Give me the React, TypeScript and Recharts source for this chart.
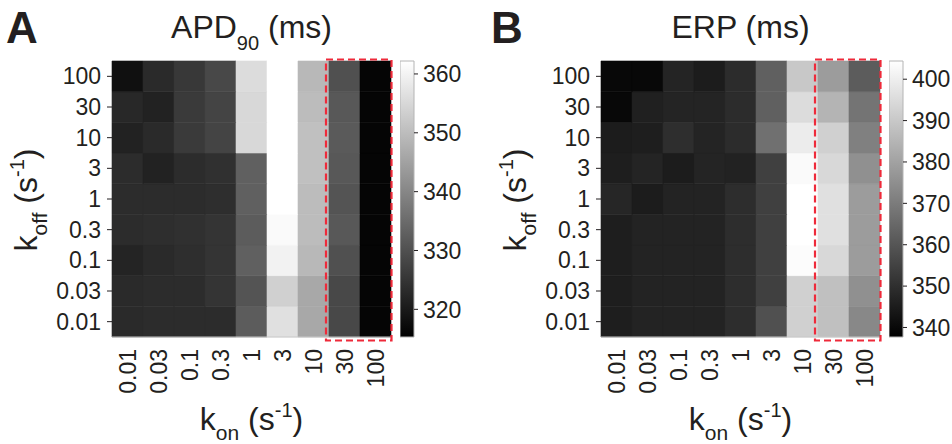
import React from 'react';
import { BarChart, Bar, XAxis, YAxis, Cell, ReferenceArea } from 'recharts';

// Rate constants (s^-1)
const KON = ['0.01', '0.03', '0.1', '0.3', '1', '3', '10', '30', '100'];
// koff listed from the bottom row of the map to the top row
const KOFF = ['0.01', '0.03', '0.1', '0.3', '1', '3', '10', '30', '100'];

// APD90 (ms); each row is one koff (top row koff = 100 first), columns follow KON
const APD90_ROWS = [
  [318.2, 323.0, 325.6, 328.5, 355.8, 362.2, 349.1, 330.0, 316.2],
  [322.7, 321.6, 326.0, 327.8, 355.0, 362.2, 349.9, 331.5, 316.2],
  [321.6, 323.0, 326.0, 327.8, 355.0, 362.2, 350.6, 331.9, 316.2],
  [323.4, 321.6, 323.4, 324.1, 333.0, 362.2, 350.6, 331.5, 316.2],
  [323.4, 323.4, 323.4, 323.8, 333.0, 362.2, 349.9, 330.8, 316.2],
  [323.4, 323.8, 324.1, 324.9, 332.2, 361.3, 349.9, 331.5, 316.2],
  [321.9, 323.0, 323.8, 324.9, 333.0, 359.8, 349.1, 330.0, 316.2],
  [323.0, 323.4, 323.4, 324.9, 330.8, 353.6, 346.2, 328.5, 316.2],
  [323.0, 323.4, 323.4, 323.4, 332.2, 356.5, 346.2, 328.5, 316.2],
];

// ERP (ms); same layout as above
const ERP_ROWS = [
  [339.8, 339.8, 347.1, 345.0, 349.2, 362.8, 390.0, 378.5, 361.8],
  [339.8, 346.1, 347.1, 347.1, 349.2, 362.8, 395.2, 384.8, 368.0],
  [345.0, 345.5, 349.7, 347.1, 349.2, 367.0, 399.4, 392.1, 371.2],
  [345.5, 347.1, 345.0, 347.1, 346.6, 354.4, 403.1, 394.2, 375.4],
  [347.6, 345.0, 346.9, 346.9, 349.5, 354.4, 404.4, 396.3, 378.5],
  [345.5, 346.9, 346.9, 346.9, 349.5, 354.4, 404.4, 396.3, 378.5],
  [345.5, 346.9, 346.9, 346.9, 349.5, 354.4, 403.6, 394.2, 378.5],
  [345.5, 346.9, 346.9, 346.9, 349.5, 354.4, 392.1, 387.9, 375.4],
  [345.5, 346.9, 346.9, 346.9, 349.5, 358.6, 392.1, 387.9, 373.3],
];

// Colour scale limits and colourbar ticks
const APD90_RANGE = [315.3, 362.2];
const ERP_RANGE = [337.7, 404.4];
const APD90_TICKS = [320, 330, 340, 350, 360];
const ERP_TICKS = [340, 350, 360, 370, 380, 390, 400];

// Highlighted kon span
const HIGHLIGHT = ['30', '100'];

const FONT = '"Liberation Sans", Arial, Helvetica, sans-serif';
const INK = '#231f20';
const TICK_FONT = 23;

const grayOf = (v: number, lo: number, hi: number) => {
  const t = Math.max(0, Math.min(1, (v - lo) / (hi - lo)));
  const g = Math.round(t * 255);
  return `rgb(${g},${g},${g})`;
};

// One object per kon column; each koff band stacks one unit tall
const buildColumns = () =>
  KON.map((kon) => {
    const row: Record<string, string | number> = { kon };
    KOFF.forEach((_, k) => {
      row[`k${k}`] = 1;
    });
    return row;
  });

const KonTick = (props: any) => {
  const { x, y, payload } = props;
  return (
    <g transform={`translate(${x},${y})`}>
      <text
        transform="rotate(-90)"
        x={-12}
        y={0}
        textAnchor="end"
        dominantBaseline="central"
        fontSize={TICK_FONT}
        fontFamily={FONT}
        fill={INK}
      >
        {payload.value}
      </text>
    </g>
  );
};

const DashedBox = (props: any) => {
  const { x, y, width, height } = props;
  return (
    <rect
      x={x - 3}
      y={y - 1.5}
      width={width + 3.5}
      height={height + 5}
      fill="none"
      stroke="#ee2a3a"
      strokeWidth={2.2}
      strokeDasharray="7 4"
    />
  );
};

type MapProps = { left: number; rows: number[][]; range: number[] };

const HeatMap = ({ left, rows, range }: MapProps) => {
  const data = buildColumns();
  const [lo, hi] = range;
  return (
    <div style={{ position: 'absolute', left, top: 0 }}>
      <BarChart
        width={400}
        height={444}
        data={data}
        margin={{ top: 61, right: 9, bottom: 47, left: 0 }}
        barCategoryGap={0}
        barGap={0}
      >
        <XAxis
          dataKey="kon"
          type="category"
          height={60}
          axisLine={{ stroke: '#c8c8c8' }}
          tickLine={false}
          tickSize={0}
          tickMargin={0}
          interval={0}
          tick={<KonTick />}
        />
        <YAxis
          type="number"
          domain={[0, 9]}
          ticks={KOFF.map((_, i) => i + 0.5)}
          tickFormatter={(v: number) => KOFF[Math.floor(v)]}
          width={112}
          axisLine={false}
          tickLine={{ stroke: INK }}
          tickSize={5}
          tickMargin={6}
          interval={0}
          tick={{ fontSize: TICK_FONT, fill: INK, fontFamily: FONT }}
        />
        {KOFF.map((_, k) => (
          <Bar key={k} dataKey={`k${k}`} stackId="map" isAnimationActive={false}>
            {KON.map((__, c) => {
              const fill = grayOf(rows[8 - k][c], lo, hi);
              return <Cell key={c} fill={fill} stroke={fill} strokeWidth={0.6} />;
            })}
          </Bar>
        ))}
        <ReferenceArea
          x1={HIGHLIGHT[0]}
          x2={HIGHLIGHT[1]}
          y1={0}
          y2={9}
          ifOverflow="visible"
          zIndex={2000}
          shape={<DashedBox />}
        />
      </BarChart>
    </div>
  );
};

type BarProps = { left: number; range: number[]; ticks: number[]; id: string };

const ColorBar = ({ left, range, ticks, id }: BarProps) => (
  <div style={{ position: 'absolute', left, top: 0 }}>
    <BarChart
      width={74}
      height={444}
      data={[{ name: 'scale', span: range }]}
      margin={{ top: 61, right: 0, bottom: 107, left: 0 }}
      barCategoryGap={0}
    >
      <defs>
        <linearGradient id={id} x1="0" y1="1" x2="0" y2="0">
          <stop offset="0" stopColor="#000" />
          <stop offset="1" stopColor="#fff" />
        </linearGradient>
      </defs>
      <XAxis dataKey="name" hide />
      <YAxis
        orientation="right"
        type="number"
        domain={range}
        ticks={ticks}
        width={60}
        axisLine={false}
        tickLine={{ stroke: INK }}
        tickSize={4}
        tickMargin={5}
        interval={0}
        tick={{ fontSize: TICK_FONT, fill: INK, fontFamily: FONT }}
      />
      <Bar dataKey="span" fill={`url(#${id})`} stroke="#b4b4b4" strokeWidth={1} isAnimationActive={false} />
    </BarChart>
  </div>
);

const AxisTitle = ({ x, y, sub, rotate }: { x: number; y: number; sub: string; rotate?: boolean }) => (
  <text
    transform={rotate ? `translate(${x},${y}) rotate(-90)` : `translate(${x},${y})`}
    textAnchor="middle"
    fontSize={32}
    fontFamily={FONT}
    fill={INK}
  >
    k
    <tspan fontSize={21} dy={10}>{sub}</tspan>
    <tspan fontSize={32} dy={-10}>{' (s'}</tspan>
    <tspan fontSize={20} dy={-13}>-1</tspan>
    <tspan fontSize={32} dy={13}>)</tspan>
  </text>
);

const Labels = () => (
  <svg
    width={952}
    height={444}
    style={{ position: 'absolute', left: 0, top: 0, pointerEvents: 'none' }}
  >
    <text x={6} y={43} fontSize={44} fontWeight="bold" fontFamily={FONT} fill={INK}>A</text>
    <text x={491} y={43} fontSize={44} fontWeight="bold" fontFamily={FONT} fill={INK}>B</text>

    <text x={251.5} y={38} textAnchor="middle" fontSize={32} fontFamily={FONT} fill={INK}>
      APD
      <tspan fontSize={20} dy={12}>90</tspan>
      <tspan fontSize={32} dy={-12}>{' (ms)'}</tspan>
    </text>
    <text x={740.5} y={38} textAnchor="middle" fontSize={32} fontFamily={FONT} fill={INK}>
      ERP (ms)
    </text>

    <AxisTitle x={251.5} y={430} sub="on" />
    <AxisTitle x={740.5} y={430} sub="on" />
    <AxisTitle x={37} y={200} sub="off" rotate />
    <AxisTitle x={526} y={200} sub="off" rotate />
  </svg>
);

export default function App() {
  return (
    <div
      style={{
        position: 'absolute',
        left: 0,
        top: 0,
        width: 952,
        height: 444,
        background: '#fff',
        overflow: 'hidden',
      }}
    >
      <HeatMap left={0} rows={APD90_ROWS} range={APD90_RANGE} />
      <ColorBar left={400} range={APD90_RANGE} ticks={APD90_TICKS} id="apdScale" />
      <HeatMap left={489} rows={ERP_ROWS} range={ERP_RANGE} />
      <ColorBar left={889} range={ERP_RANGE} ticks={ERP_TICKS} id="erpScale" />
      <Labels />
    </div>
  );
}
